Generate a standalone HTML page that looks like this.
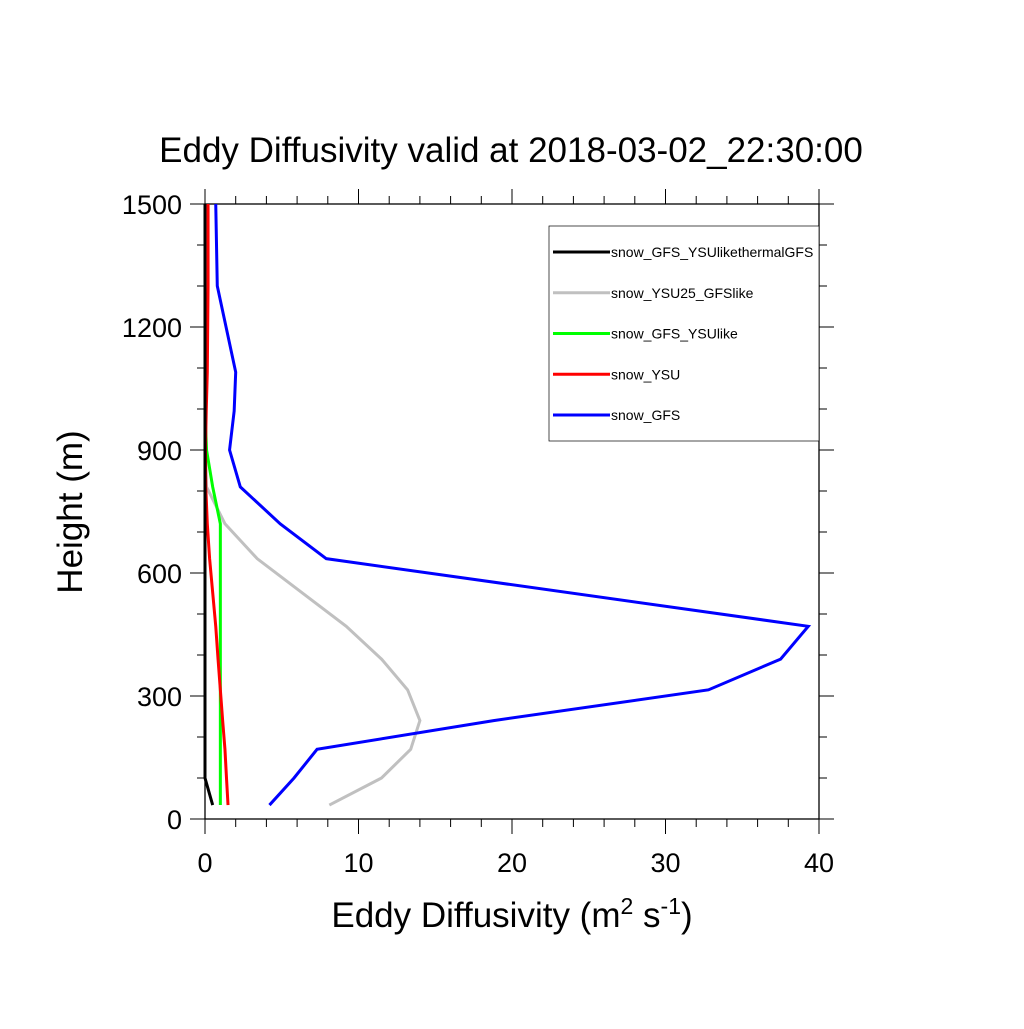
<!DOCTYPE html>
<html><head><meta charset="utf-8"><style>
body{margin:0;background:#fff}
svg text{font-family:"Liberation Sans",sans-serif}
</style></head><body>
<svg id="chart" width="1024" height="1024" xmlns="http://www.w3.org/2000/svg">
<rect width="1024" height="1024" fill="#fff"/>
<text x="511" y="162" font-size="35" text-anchor="middle">Eddy Diffusivity valid at 2018-03-02_22:30:00</text>
<g id="axes"></g>
<g id="series"></g>
<text x="512" y="927" font-size="35" text-anchor="middle">Eddy Diffusivity (m<tspan dy="-13" font-size="23">2</tspan><tspan dy="13"> s</tspan><tspan dy="-13" font-size="23">-1</tspan><tspan dy="13">)</tspan></text>
<text transform="translate(82,512) rotate(-90)" font-size="35" text-anchor="middle">Height (m)</text>
<g id="legend"></g>
</svg>
<script>
const heights=[34,100,170,240,315,390,470,635,720,810,900,995,1090,1300,1500];
const seriesNames=["snow_GFS_YSUlikethermalGFS","snow_YSU25_GFSlike","snow_GFS_YSUlike","snow_YSU","snow_GFS"];
const seriesColors=["#000","#c0c0c0","#00ff00","#ff0000","#0000ff"];
const blackVals=[0.5,0,0,0,0,0,0,0,0,0,0,0,0,0,0];
const grayVals=[8.1,11.5,13.4,14.0,13.2,11.5,9.2,3.4,1.3,0.1,0,0,0,0,0];
const greenVals=[1.0,1.0,1.0,1.0,1.0,1.0,1.0,1.0,1.0,0.5,0.1,0,0,0,0];
const redVals=[1.5,1.4,1.3,1.15,1.0,0.85,0.7,0.3,0.15,0.05,0.03,0.08,0.15,0.2,0.2];
const blueVals=[4.2,5.8,7.3,18.8,32.8,37.5,39.3,7.9,4.9,2.3,1.6,1.9,2.0,0.8,0.7];
const xTicks=[0,10,20,30,40];
const yTicks=[0,300,600,900,1200,1500];
const NS="http://www.w3.org/2000/svg";
const X0=205,X1=819,Y0=819,Y1=204;
const xs=v=>X0+(v-0)/40*(X1-X0);
const ys=v=>Y0-(v/1500)*(Y0-Y1);
function mk(t,a,p){const e=document.createElementNS(NS,t);for(const k in a)e.setAttribute(k,a[k]);p.appendChild(e);return e;}
const ax=document.getElementById('axes');
const frame=mk('rect',{x:X0,y:Y1,width:X1-X0,height:Y0-Y1,fill:'none',stroke:'#000','stroke-width':1.3},ax);


for(let v=0;v<=40;v+=2){const M=v%10===0,L=M?15:8;const x=xs(v);
 mk('line',{x1:x,y1:Y0,x2:x,y2:Y0+L,stroke:'#000','stroke-width':1},ax);
 mk('line',{x1:x,y1:Y1,x2:x,y2:Y1-L,stroke:'#000','stroke-width':1},ax);}
for(let v=0;v<=1500;v+=100){const M=v%300===0,L=M?15:8;const y=ys(v);
 mk('line',{x1:X0,y1:y,x2:X0-L,y2:y,stroke:'#000','stroke-width':1},ax);
 mk('line',{x1:X1,y1:y,x2:X1+L,y2:y,stroke:'#000','stroke-width':1},ax);}
xTicks.forEach(v=>{const t=mk('text',{x:xs(v),y:872,'font-size':27,'text-anchor':'middle'},ax);t.textContent=v;

});
yTicks.forEach(v=>{const t=mk('text',{x:182,y:ys(v)+10,'font-size':27,'text-anchor':'end'},ax);t.textContent=v;

});
const sv=document.getElementById('series');
const allVals=[blackVals,grayVals,greenVals,redVals,blueVals];
const order=[1,2,3,4,0];
order.forEach(i=>{const pts=allVals[i].map((v,j)=>xs(v)+','+ys(heights[j])).join(' ');
 const p=mk('polyline',{points:pts,fill:'none',stroke:seriesColors[i],'stroke-width':3,'stroke-linejoin':'miter'},sv);
 
 });
const lg=document.getElementById('legend');
const box=mk('rect',{x:549,y:226,width:270,height:215,fill:'#fff',stroke:'#000','stroke-width':0.7},lg);


seriesNames.forEach((n,i)=>{const y=252+i*40.75;
 const l=mk('line',{x1:553,y1:y,x2:610,y2:y,stroke:seriesColors[i],'stroke-width':3},lg);
 
 
 const t=mk('text',{x:611,y:y+5,'font-size':14},lg);t.textContent=n;
 
 });
</script>
</body></html>
